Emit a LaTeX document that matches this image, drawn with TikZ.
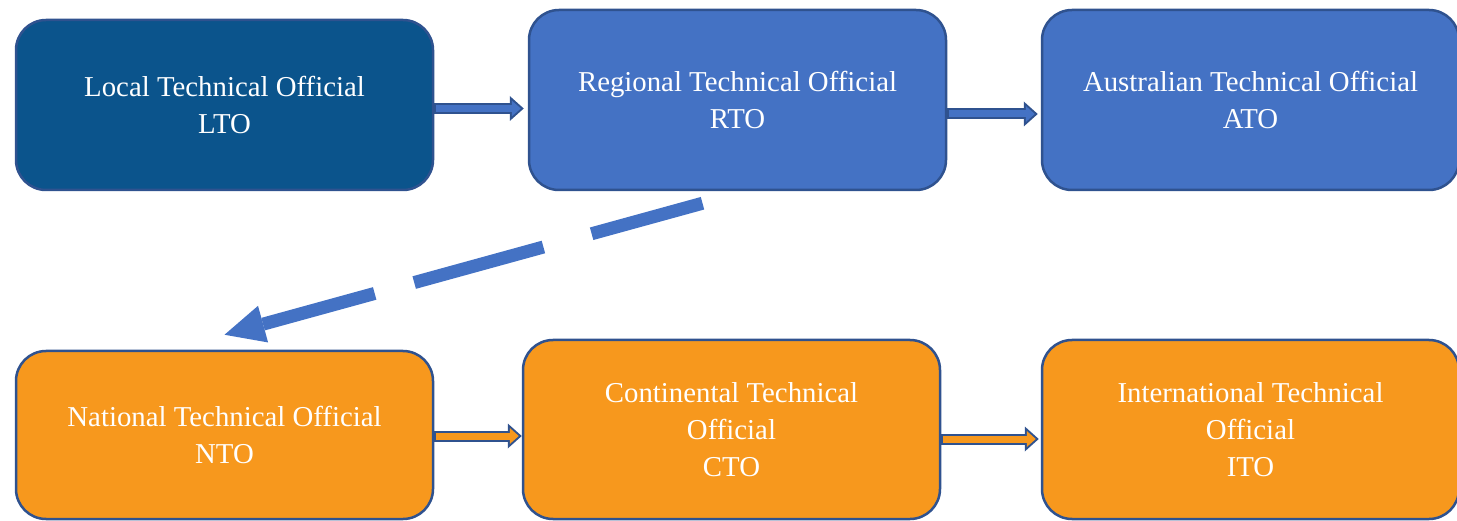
\documentclass[tikz,border=0pt]{standalone}
\usepackage{fontspec}
\setmainfont{Liberation Serif}
\usetikzlibrary{arrows.meta, positioning}
\usepackage{xcolor}
\definecolor{darkblue}{HTML}{0B548C}
\definecolor{midblue}{HTML}{4472C4}
\definecolor{orangefill}{HTML}{F7981D}
\definecolor{rimblue}{HTML}{2F528F}

\begin{document}
\begin{tikzpicture}[
box/.style={draw=rimblue,
line width=2.5pt,
rectangle,
rounded corners=30pt,
minimum width=417pt,
text=white,
font=\fontsize{28.8}{37}\selectfont,
align=center},
arrowrim/.style={-{Triangle[length=14pt, width=25pt, line width=0pt]}, line width=11pt, draw=rimblue},
arrowcore/.style={-{Triangle[length=9pt, width=16pt, line width=0pt]}, line width=7pt, shorten >=3pt, shorten <=1.5pt},
jump/.style={-{Triangle[length=40pt, width=38pt, line width=0pt]}, line width=13pt, draw=midblue,
dash pattern=on 115pt off 50pt on 134pt off 41pt on 300pt}
]

\useasboundingbox (0,0) rectangle (1457pt,-521pt);

\node[box, fill=darkblue, minimum height=170pt] (lto) at (224.5pt,-105pt) {Local Technical Official\\LTO};
\node[box, fill=midblue, minimum height=180pt, right=93.5pt of lto, yshift=5pt] (rto) {Regional Technical Official\\RTO};
\node[box, fill=midblue, minimum height=180pt, right=93.5pt of rto] (ato) {Australian Technical Official\\ATO};

\node[box, fill=orangefill, minimum height=168pt, below=158.5pt of lto] (nto) {National Technical Official\\NTO};
\node[box, fill=orangefill, minimum height=179pt, right=87.5pt of nto, yshift=5.5pt] (cto) {Continental Technical\\Official\\CTO};
\node[box, fill=orangefill, minimum height=179pt, right=99.5pt of cto] (ito) {International Technical\\Official\\ITO};

% top row
\draw[arrowrim, shorten >=4pt] ([yshift=-3.5pt]lto.east) -- ([yshift=-3.5pt]lto.east -| rto.west);
\draw[arrowcore, midblue, shorten >=7pt] ([yshift=-3.5pt]lto.east) -- ([yshift=-3.5pt]lto.east -| rto.west);
\draw[arrowrim, shorten >=3pt] ([yshift=-14pt]rto.east) -- ([yshift=-14pt]rto.east -| ato.west);
\draw[arrowcore, midblue, shorten >=6pt] ([yshift=-14pt]rto.east) -- ([yshift=-14pt]rto.east -| ato.west);

% down to the second row
\draw[jump] ([xshift=-35pt, yshift=-12pt]rto.south) -- ([yshift=15pt]nto.north);

% bottom row
\draw[arrowrim] ([yshift=-1pt]nto.east) -- ([yshift=-1pt]nto.east -| cto.west);
\draw[arrowcore, orangefill] ([yshift=-1pt]nto.east) -- ([yshift=-1pt]nto.east -| cto.west);
\draw[arrowrim, shorten >=2pt] ([yshift=-9.5pt]cto.east) -- ([yshift=-9.5pt]cto.east -| ito.west);
\draw[arrowcore, orangefill, shorten >=5pt] ([yshift=-9.5pt]cto.east) -- ([yshift=-9.5pt]cto.east -| ito.west);

\end{tikzpicture}
\end{document}
